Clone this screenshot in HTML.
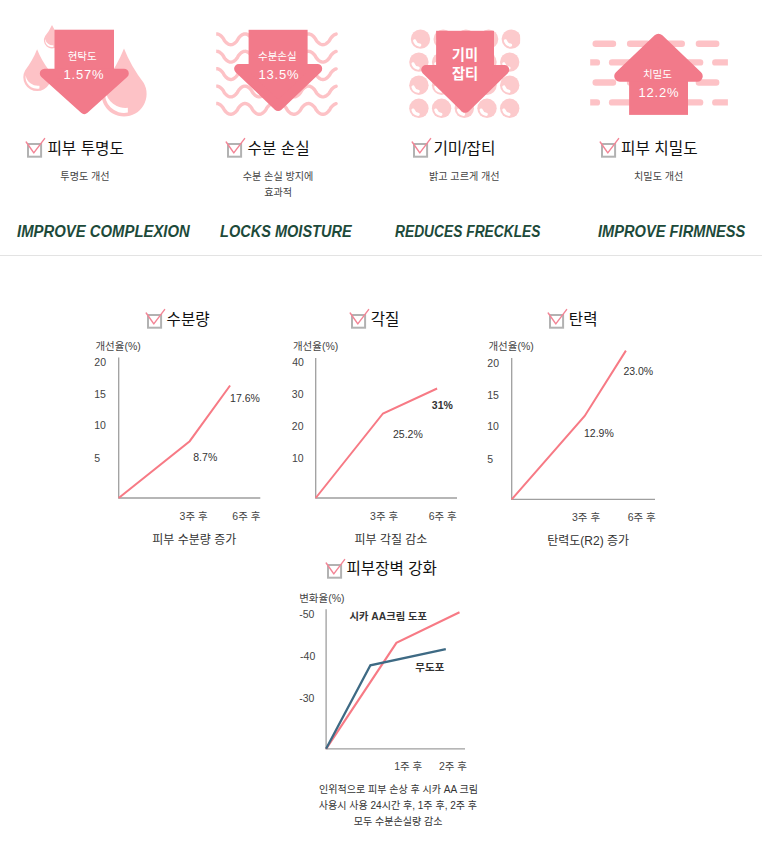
<!DOCTYPE html>
<html lang="ko"><head><meta charset="utf-8"><title>Skin improvement results</title>
<style>
html,body{margin:0;padding:0;background:#fff}
body{width:762px;height:862px;overflow:hidden;font-family:"Liberation Sans","Noto Sans CJK KR",sans-serif}
#page{position:relative;width:762px;height:862px;overflow:hidden;background:#fff}
.abs,.t,.en{position:absolute;display:block}
.tl{position:absolute;white-space:nowrap;line-height:1;text-align:center;font-weight:normal;font-family:"Liberation Sans","Noto Sans CJK KR",sans-serif}
.t{white-space:nowrap;line-height:1}
.en{white-space:nowrap;line-height:1}
.en text{font-family:"Liberation Sans",sans-serif;font-size:17.2px;font-weight:bold;font-style:italic;fill:#1d4a3a}
#art{position:absolute;left:0;top:0}
hr{position:absolute;left:0;top:255px;width:762px;height:1px;margin:0;border:0;background:#e3e3e3}
h3,p{margin:0;padding:0;font-size:0}
</style></head><body><main id="page">

<svg id="art" width="762" height="862" viewBox="0 0 762 862" aria-hidden="true">
<path fill="#fdc2c6" d="M52 25.1Q54.52 30.82 58.85 35.98A8.1 8.1 0 1 1 45.15 35.98Q49.48 30.82 52 25.1Z"/>
<path fill="#fff" d="M45.3 39.12A6.8 6.8 0 0 0 53.38 46.96L53.38 45.28A7.29 7.29 0 0 1 45.3 39.12Z"/>
<path fill="#fdc2c6" d="M37.1 49.2Q41.42 60.3 49.11 70.4A13.8 13.8 0 1 1 25.09 70.4Q32.78 60.3 37.1 49.2Z"/>
<path fill="#fff" d="M25.68 75.19A11.59 11.59 0 0 0 39.45 88.55L39.45 85.69A12.42 12.42 0 0 1 25.68 75.19Z"/>
<path fill="#fdc2c6" d="M124 48.4Q131.08 66.36 143.62 82.67A22.6 22.6 0 1 1 104.38 82.67Q116.92 66.36 124 48.4Z"/>
<path fill="#fff" d="M105.3 90.6A18.98 18.98 0 0 0 127.84 112.49L127.84 107.8A20.34 20.34 0 0 1 105.3 90.6Z"/>
<rect x="54.5" y="29.7" width="59.5" height="44.8" fill="#f27a8a"/><path d="M44.6 73.5L124 73.5L84.3 109.2Z" fill="#f27a8a" stroke="#f27a8a" stroke-width="9.6" stroke-linejoin="round"/>
<clipPath id="c2"><rect x="216.2" y="25" width="125" height="100"/></clipPath><g clip-path="url(#c2)">
<path d="M213 35.24L213.7 34.78L214.4 34.41L215.1 34.14L215.8 33.97L216.5 33.9L217.2 33.94L217.9 34.08L218.6 34.32L219.3 34.66L220 35.1L220.7 35.63L221.4 36.26L222.1 36.99L222.8 37.82L223.5 38.85L224.2 40.23L224.9 41.15L225.6 41.94L226.3 42.62L227 43.21L227.7 43.7L228.4 44.1L229.1 44.4L229.8 44.59L230.5 44.69L231.2 44.68L231.9 44.57L232.6 44.36L233.3 44.05L234 43.63L234.7 43.13L235.4 42.53L236.1 41.83L236.8 41.03L237.5 40.08L238.2 38.68L238.9 37.7L239.6 36.88L240.3 36.17L241 35.55L241.7 35.03L242.4 34.61L243.1 34.28L243.8 34.05L244.5 33.93L245.2 33.9L245.9 33.99L246.6 34.17L247.3 34.45L248 34.84L248.7 35.32L249.4 35.89L250.1 36.56L250.8 37.33L251.5 38.23L252.2 39.56L252.9 40.65L253.6 41.5L254.3 42.24L255 42.88L255.7 43.43L256.4 43.88L257.1 44.24L257.8 44.49L258.5 44.65L259.2 44.7L259.9 44.65L260.6 44.49L261.3 44.24L262 43.88L262.7 43.43L263.4 42.88L264.1 42.24L264.8 41.5L265.5 40.65L266.2 39.56L266.9 38.23L267.6 37.33L268.3 36.56L269 35.89L269.7 35.32L270.4 34.84L271.1 34.45L271.8 34.17L272.5 33.99L273.2 33.9L273.9 33.93L274.6 34.05L275.3 34.28L276 34.61L276.7 35.03L277.4 34.3L278.1 34.07L278.8 33.94L279.5 33.9L280.2 33.96L280.9 34.13L281.6 34.39L282.3 34.74L283 35.19L283.7 35.73L284.4 36.36L285.1 37.08L285.8 37.91L286.5 38.95L287.2 40.28L287.9 41.18L288.6 41.95L289.3 42.61L290 43.19L290.7 43.68L291.4 44.07L292.1 44.37L292.8 44.58L293.5 44.68L294.2 44.69L294.9 44.6L295.6 44.41L296.3 44.12L297 43.74L297.7 43.27L298.4 42.7L299.1 42.05L299.8 41.3L300.5 40.42L301.2 39.16L301.9 38.04L302.6 37.19L303.3 36.45L304 35.81L304.7 35.26L305.4 34.8L306.1 34.43L306.8 34.16L307.5 33.98L308.2 33.9L308.9 33.93L309.6 34.05L310.3 34.26L311 34.58L311.7 34.99L312.4 35.49L313.1 36.08L313.8 36.76L314.5 37.54L315.2 38.46L315.9 39.82L316.6 40.82L317.3 41.63L318 42.34L318.7 42.95L319.4 43.48L320.1 43.91L320.8 44.26L321.5 44.5L322.2 44.65L322.9 44.7L323.6 44.65L324.3 44.5L325 44.26L325.7 43.91L326.4 43.48L327.1 42.95L327.8 42.34L328.5 41.63L329.2 40.82L329.9 39.82L330.6 38.46L331.3 37.54L332 36.76L332.7 36.08L333.4 35.49L334.1 34.99L334.8 34.58L335.5 34.26L336.1 34.07" fill="none" stroke="#fdc2c6" stroke-width="3.4" stroke-linecap="round" stroke-linejoin="round"/>
<path d="M213 52.64L213.7 52.18L214.4 51.81L215.1 51.54L215.8 51.37L216.5 51.3L217.2 51.34L217.9 51.48L218.6 51.72L219.3 52.06L220 52.5L220.7 53.03L221.4 53.66L222.1 54.39L222.8 55.22L223.5 56.25L224.2 57.63L224.9 58.55L225.6 59.34L226.3 60.02L227 60.61L227.7 61.1L228.4 61.5L229.1 61.8L229.8 61.99L230.5 62.09L231.2 62.08L231.9 61.97L232.6 61.76L233.3 61.45L234 61.03L234.7 60.53L235.4 59.93L236.1 59.23L236.8 58.43L237.5 57.48L238.2 56.08L238.9 55.1L239.6 54.28L240.3 53.57L241 52.95L241.7 52.43L242.4 52.01L243.1 51.68L243.8 51.45L244.5 51.33L245.2 51.3L245.9 51.39L246.6 51.57L247.3 51.85L248 52.24L248.7 52.72L249.4 53.29L250.1 53.96L250.8 54.73L251.5 55.63L252.2 56.96L252.9 58.05L253.6 58.9L254.3 59.64L255 60.28L255.7 60.83L256.4 61.28L257.1 61.64L257.8 61.89L258.5 62.05L259.2 62.1L259.9 62.05L260.6 61.89L261.3 61.64L262 61.28L262.7 60.83L263.4 60.28L264.1 59.64L264.8 58.9L265.5 58.05L266.2 56.96L266.9 55.63L267.6 54.73L268.3 53.96L269 53.29L269.7 52.72L270.4 52.24L271.1 51.85L271.8 51.57L272.5 51.39L273.2 51.3L273.9 51.33L274.6 51.45L275.3 51.68L276 52.01L276.7 52.43L277.4 51.7L278.1 51.47L278.8 51.34L279.5 51.3L280.2 51.36L280.9 51.53L281.6 51.79L282.3 52.14L283 52.59L283.7 53.13L284.4 53.76L285.1 54.48L285.8 55.31L286.5 56.35L287.2 57.68L287.9 58.58L288.6 59.35L289.3 60.01L290 60.59L290.7 61.08L291.4 61.47L292.1 61.77L292.8 61.98L293.5 62.08L294.2 62.09L294.9 62L295.6 61.81L296.3 61.52L297 61.14L297.7 60.67L298.4 60.1L299.1 59.45L299.8 58.7L300.5 57.82L301.2 56.56L301.9 55.44L302.6 54.59L303.3 53.85L304 53.21L304.7 52.66L305.4 52.2L306.1 51.83L306.8 51.56L307.5 51.38L308.2 51.3L308.9 51.33L309.6 51.45L310.3 51.66L311 51.98L311.7 52.39L312.4 52.89L313.1 53.48L313.8 54.16L314.5 54.94L315.2 55.86L315.9 57.22L316.6 58.22L317.3 59.03L318 59.74L318.7 60.35L319.4 60.88L320.1 61.31L320.8 61.66L321.5 61.9L322.2 62.05L322.9 62.1L323.6 62.05L324.3 61.9L325 61.66L325.7 61.31L326.4 60.88L327.1 60.35L327.8 59.74L328.5 59.03L329.2 58.22L329.9 57.22L330.6 55.86L331.3 54.94L332 54.16L332.7 53.48L333.4 52.89L334.1 52.39L334.8 51.98L335.5 51.66L336.1 51.47" fill="none" stroke="#fdc2c6" stroke-width="3.4" stroke-linecap="round" stroke-linejoin="round"/>
<path d="M213 70.04L213.7 69.58L214.4 69.21L215.1 68.94L215.8 68.77L216.5 68.7L217.2 68.74L217.9 68.88L218.6 69.12L219.3 69.46L220 69.9L220.7 70.43L221.4 71.06L222.1 71.79L222.8 72.62L223.5 73.65L224.2 75.03L224.9 75.95L225.6 76.74L226.3 77.42L227 78.01L227.7 78.5L228.4 78.9L229.1 79.2L229.8 79.39L230.5 79.49L231.2 79.48L231.9 79.37L232.6 79.16L233.3 78.85L234 78.43L234.7 77.93L235.4 77.33L236.1 76.63L236.8 75.83L237.5 74.88L238.2 73.48L238.9 72.5L239.6 71.68L240.3 70.97L241 70.35L241.7 69.83L242.4 69.41L243.1 69.08L243.8 68.85L244.5 68.73L245.2 68.7L245.9 68.79L246.6 68.97L247.3 69.25L248 69.64L248.7 70.12L249.4 70.69L250.1 71.36L250.8 72.13L251.5 73.03L252.2 74.36L252.9 75.45L253.6 76.3L254.3 77.04L255 77.68L255.7 78.23L256.4 78.68L257.1 79.04L257.8 79.29L258.5 79.45L259.2 79.5L259.9 79.45L260.6 79.29L261.3 79.04L262 78.68L262.7 78.23L263.4 77.68L264.1 77.04L264.8 76.3L265.5 75.45L266.2 74.36L266.9 73.03L267.6 72.13L268.3 71.36L269 70.69L269.7 70.12L270.4 69.64L271.1 69.25L271.8 68.97L272.5 68.79L273.2 68.7L273.9 68.73L274.6 68.85L275.3 69.08L276 69.41L276.7 69.83L277.4 69.1L278.1 68.87L278.8 68.74L279.5 68.7L280.2 68.76L280.9 68.93L281.6 69.19L282.3 69.54L283 69.99L283.7 70.53L284.4 71.16L285.1 71.88L285.8 72.71L286.5 73.75L287.2 75.08L287.9 75.98L288.6 76.75L289.3 77.41L290 77.99L290.7 78.48L291.4 78.87L292.1 79.17L292.8 79.38L293.5 79.48L294.2 79.49L294.9 79.4L295.6 79.21L296.3 78.92L297 78.54L297.7 78.07L298.4 77.5L299.1 76.85L299.8 76.1L300.5 75.22L301.2 73.96L301.9 72.84L302.6 71.99L303.3 71.25L304 70.61L304.7 70.06L305.4 69.6L306.1 69.23L306.8 68.96L307.5 68.78L308.2 68.7L308.9 68.73L309.6 68.85L310.3 69.06L311 69.38L311.7 69.79L312.4 70.29L313.1 70.88L313.8 71.56L314.5 72.34L315.2 73.26L315.9 74.62L316.6 75.62L317.3 76.43L318 77.14L318.7 77.75L319.4 78.28L320.1 78.71L320.8 79.06L321.5 79.3L322.2 79.45L322.9 79.5L323.6 79.45L324.3 79.3L325 79.06L325.7 78.71L326.4 78.28L327.1 77.75L327.8 77.14L328.5 76.43L329.2 75.62L329.9 74.62L330.6 73.26L331.3 72.34L332 71.56L332.7 70.88L333.4 70.29L334.1 69.79L334.8 69.38L335.5 69.06L336.1 68.87" fill="none" stroke="#fdc2c6" stroke-width="3.4" stroke-linecap="round" stroke-linejoin="round"/>
<path d="M213 87.44L213.7 86.98L214.4 86.61L215.1 86.34L215.8 86.17L216.5 86.1L217.2 86.14L217.9 86.28L218.6 86.52L219.3 86.86L220 87.3L220.7 87.83L221.4 88.46L222.1 89.19L222.8 90.02L223.5 91.05L224.2 92.43L224.9 93.35L225.6 94.14L226.3 94.82L227 95.41L227.7 95.9L228.4 96.3L229.1 96.6L229.8 96.79L230.5 96.89L231.2 96.88L231.9 96.77L232.6 96.56L233.3 96.25L234 95.83L234.7 95.33L235.4 94.73L236.1 94.03L236.8 93.23L237.5 92.28L238.2 90.88L238.9 89.9L239.6 89.08L240.3 88.37L241 87.75L241.7 87.23L242.4 86.81L243.1 86.48L243.8 86.25L244.5 86.13L245.2 86.1L245.9 86.19L246.6 86.37L247.3 86.65L248 87.04L248.7 87.52L249.4 88.09L250.1 88.76L250.8 89.53L251.5 90.43L252.2 91.76L252.9 92.85L253.6 93.7L254.3 94.44L255 95.08L255.7 95.63L256.4 96.08L257.1 96.44L257.8 96.69L258.5 96.85L259.2 96.9L259.9 96.85L260.6 96.69L261.3 96.44L262 96.08L262.7 95.63L263.4 95.08L264.1 94.44L264.8 93.7L265.5 92.85L266.2 91.76L266.9 90.43L267.6 89.53L268.3 88.76L269 88.09L269.7 87.52L270.4 87.04L271.1 86.65L271.8 86.37L272.5 86.19L273.2 86.1L273.9 86.13L274.6 86.25L275.3 86.48L276 86.81L276.7 87.23L277.4 86.5L278.1 86.27L278.8 86.14L279.5 86.1L280.2 86.16L280.9 86.33L281.6 86.59L282.3 86.94L283 87.39L283.7 87.93L284.4 88.56L285.1 89.28L285.8 90.11L286.5 91.15L287.2 92.48L287.9 93.38L288.6 94.15L289.3 94.81L290 95.39L290.7 95.88L291.4 96.27L292.1 96.57L292.8 96.78L293.5 96.88L294.2 96.89L294.9 96.8L295.6 96.61L296.3 96.32L297 95.94L297.7 95.47L298.4 94.9L299.1 94.25L299.8 93.5L300.5 92.62L301.2 91.36L301.9 90.24L302.6 89.39L303.3 88.65L304 88.01L304.7 87.46L305.4 87L306.1 86.63L306.8 86.36L307.5 86.18L308.2 86.1L308.9 86.13L309.6 86.25L310.3 86.46L311 86.78L311.7 87.19L312.4 87.69L313.1 88.28L313.8 88.96L314.5 89.74L315.2 90.66L315.9 92.02L316.6 93.02L317.3 93.83L318 94.54L318.7 95.15L319.4 95.68L320.1 96.11L320.8 96.46L321.5 96.7L322.2 96.85L322.9 96.9L323.6 96.85L324.3 96.7L325 96.46L325.7 96.11L326.4 95.68L327.1 95.15L327.8 94.54L328.5 93.83L329.2 93.02L329.9 92.02L330.6 90.66L331.3 89.74L332 88.96L332.7 88.28L333.4 87.69L334.1 87.19L334.8 86.78L335.5 86.46L336.1 86.27" fill="none" stroke="#fdc2c6" stroke-width="3.4" stroke-linecap="round" stroke-linejoin="round"/>
<path d="M213 104.84L213.7 104.38L214.4 104.01L215.1 103.74L215.8 103.57L216.5 103.5L217.2 103.54L217.9 103.68L218.6 103.92L219.3 104.26L220 104.7L220.7 105.23L221.4 105.86L222.1 106.59L222.8 107.42L223.5 108.45L224.2 109.83L224.9 110.75L225.6 111.54L226.3 112.22L227 112.81L227.7 113.3L228.4 113.7L229.1 114L229.8 114.19L230.5 114.29L231.2 114.28L231.9 114.17L232.6 113.96L233.3 113.65L234 113.23L234.7 112.73L235.4 112.13L236.1 111.43L236.8 110.63L237.5 109.68L238.2 108.28L238.9 107.3L239.6 106.48L240.3 105.77L241 105.15L241.7 104.63L242.4 104.21L243.1 103.88L243.8 103.65L244.5 103.53L245.2 103.5L245.9 103.59L246.6 103.77L247.3 104.05L248 104.44L248.7 104.92L249.4 105.49L250.1 106.16L250.8 106.93L251.5 107.83L252.2 109.16L252.9 110.25L253.6 111.1L254.3 111.84L255 112.48L255.7 113.03L256.4 113.48L257.1 113.84L257.8 114.09L258.5 114.25L259.2 114.3L259.9 114.25L260.6 114.09L261.3 113.84L262 113.48L262.7 113.03L263.4 112.48L264.1 111.84L264.8 111.1L265.5 110.25L266.2 109.16L266.9 107.83L267.6 106.93L268.3 106.16L269 105.49L269.7 104.92L270.4 104.44L271.1 104.05L271.8 103.77L272.5 103.59L273.2 103.5L273.9 103.53L274.6 103.65L275.3 103.88L276 104.21L276.7 104.63L277.4 103.9L278.1 103.67L278.8 103.54L279.5 103.5L280.2 103.56L280.9 103.73L281.6 103.99L282.3 104.34L283 104.79L283.7 105.33L284.4 105.96L285.1 106.68L285.8 107.51L286.5 108.55L287.2 109.88L287.9 110.78L288.6 111.55L289.3 112.21L290 112.79L290.7 113.28L291.4 113.67L292.1 113.97L292.8 114.18L293.5 114.28L294.2 114.29L294.9 114.2L295.6 114.01L296.3 113.72L297 113.34L297.7 112.87L298.4 112.3L299.1 111.65L299.8 110.9L300.5 110.02L301.2 108.76L301.9 107.64L302.6 106.79L303.3 106.05L304 105.41L304.7 104.86L305.4 104.4L306.1 104.03L306.8 103.76L307.5 103.58L308.2 103.5L308.9 103.53L309.6 103.65L310.3 103.86L311 104.18L311.7 104.59L312.4 105.09L313.1 105.68L313.8 106.36L314.5 107.14L315.2 108.06L315.9 109.42L316.6 110.42L317.3 111.23L318 111.94L318.7 112.55L319.4 113.08L320.1 113.51L320.8 113.86L321.5 114.1L322.2 114.25L322.9 114.3L323.6 114.25L324.3 114.1L325 113.86L325.7 113.51L326.4 113.08L327.1 112.55L327.8 111.94L328.5 111.23L329.2 110.42L329.9 109.42L330.6 108.06L331.3 107.14L332 106.36L332.7 105.68L333.4 105.09L334.1 104.59L334.8 104.18L335.5 103.86L336.1 103.67" fill="none" stroke="#fdc2c6" stroke-width="3.4" stroke-linecap="round" stroke-linejoin="round"/>
</g>
<rect x="248.6" y="29.8" width="59" height="39.9" fill="#f27a8a"/><path d="M238.9 68.7L317.4 68.7L278.15 106.2Z" fill="#f27a8a" stroke="#f27a8a" stroke-width="9.6" stroke-linejoin="round"/>
<clipPath id="c3"><rect x="405" y="25" width="115.2" height="100"/></clipPath><g clip-path="url(#c3)">
<circle cx="420.5" cy="39.1" r="9.7" fill="#fccacc"/>
<path d="M414.66 40.89A6.11 6.11 0 0 0 419.76 45.17" fill="none" stroke="#fff" stroke-width="3.2" stroke-linecap="round"/>
<circle cx="443.2" cy="39.1" r="9.7" fill="#fccacc"/>
<path d="M437.36 40.89A6.11 6.11 0 0 0 442.46 45.17" fill="none" stroke="#fff" stroke-width="3.2" stroke-linecap="round"/>
<circle cx="465.9" cy="39.1" r="9.7" fill="#fccacc"/>
<path d="M460.06 40.89A6.11 6.11 0 0 0 465.16 45.17" fill="none" stroke="#fff" stroke-width="3.2" stroke-linecap="round"/>
<circle cx="488.6" cy="39.1" r="9.7" fill="#fccacc"/>
<path d="M482.76 40.89A6.11 6.11 0 0 0 487.86 45.17" fill="none" stroke="#fff" stroke-width="3.2" stroke-linecap="round"/>
<circle cx="511.3" cy="39.1" r="9.7" fill="#fccacc"/>
<path d="M505.46 40.89A6.11 6.11 0 0 0 510.56 45.17" fill="none" stroke="#fff" stroke-width="3.2" stroke-linecap="round"/>
<circle cx="418.9" cy="62.1" r="9.7" fill="#fccacc"/>
<path d="M413.06 63.89A6.11 6.11 0 0 0 418.16 68.17" fill="none" stroke="#fff" stroke-width="3.2" stroke-linecap="round"/>
<circle cx="441.6" cy="62.1" r="9.7" fill="#fccacc"/>
<path d="M435.76 63.89A6.11 6.11 0 0 0 440.86 68.17" fill="none" stroke="#fff" stroke-width="3.2" stroke-linecap="round"/>
<circle cx="464.3" cy="62.1" r="9.7" fill="#fccacc"/>
<path d="M458.46 63.89A6.11 6.11 0 0 0 463.56 68.17" fill="none" stroke="#fff" stroke-width="3.2" stroke-linecap="round"/>
<circle cx="487" cy="62.1" r="9.7" fill="#fccacc"/>
<path d="M481.16 63.89A6.11 6.11 0 0 0 486.26 68.17" fill="none" stroke="#fff" stroke-width="3.2" stroke-linecap="round"/>
<circle cx="509.7" cy="62.1" r="9.7" fill="#fccacc"/>
<path d="M503.86 63.89A6.11 6.11 0 0 0 508.96 68.17" fill="none" stroke="#fff" stroke-width="3.2" stroke-linecap="round"/>
<circle cx="418.9" cy="85.2" r="9.7" fill="#fccacc"/>
<path d="M413.06 86.99A6.11 6.11 0 0 0 418.16 91.27" fill="none" stroke="#fff" stroke-width="3.2" stroke-linecap="round"/>
<circle cx="441.6" cy="85.2" r="9.7" fill="#fccacc"/>
<path d="M435.76 86.99A6.11 6.11 0 0 0 440.86 91.27" fill="none" stroke="#fff" stroke-width="3.2" stroke-linecap="round"/>
<circle cx="464.3" cy="85.2" r="9.7" fill="#fccacc"/>
<path d="M458.46 86.99A6.11 6.11 0 0 0 463.56 91.27" fill="none" stroke="#fff" stroke-width="3.2" stroke-linecap="round"/>
<circle cx="487" cy="85.2" r="9.7" fill="#fccacc"/>
<path d="M481.16 86.99A6.11 6.11 0 0 0 486.26 91.27" fill="none" stroke="#fff" stroke-width="3.2" stroke-linecap="round"/>
<circle cx="509.7" cy="85.2" r="9.7" fill="#fccacc"/>
<path d="M503.86 86.99A6.11 6.11 0 0 0 508.96 91.27" fill="none" stroke="#fff" stroke-width="3.2" stroke-linecap="round"/>
<circle cx="418.9" cy="108.3" r="9.7" fill="#fccacc"/>
<path d="M413.06 110.09A6.11 6.11 0 0 0 418.16 114.37" fill="none" stroke="#fff" stroke-width="3.2" stroke-linecap="round"/>
<circle cx="441.6" cy="108.3" r="9.7" fill="#fccacc"/>
<path d="M435.76 110.09A6.11 6.11 0 0 0 440.86 114.37" fill="none" stroke="#fff" stroke-width="3.2" stroke-linecap="round"/>
<circle cx="464.3" cy="108.3" r="9.7" fill="#fccacc"/>
<path d="M458.46 110.09A6.11 6.11 0 0 0 463.56 114.37" fill="none" stroke="#fff" stroke-width="3.2" stroke-linecap="round"/>
<circle cx="487" cy="108.3" r="9.7" fill="#fccacc"/>
<path d="M481.16 110.09A6.11 6.11 0 0 0 486.26 114.37" fill="none" stroke="#fff" stroke-width="3.2" stroke-linecap="round"/>
<circle cx="509.7" cy="108.3" r="9.7" fill="#fccacc"/>
<path d="M503.86 110.09A6.11 6.11 0 0 0 508.96 114.37" fill="none" stroke="#fff" stroke-width="3.2" stroke-linecap="round"/>
</g>
<rect x="436.1" y="30.8" width="57.9" height="40" fill="#f27a8a"/><path d="M426 69.8L504.5 69.8L465.25 108Z" fill="#f27a8a" stroke="#f27a8a" stroke-width="9.6" stroke-linejoin="round"/>
<clipPath id="c4"><rect x="590.2" y="30" width="137.7" height="90"/></clipPath><g clip-path="url(#c4)">
<line x1="595.7" y1="43.7" x2="613" y2="43.7" stroke="#fdc2c6" stroke-width="6.4" stroke-linecap="round"/>
<line x1="630.1" y1="43.7" x2="647.4" y2="43.7" stroke="#fdc2c6" stroke-width="6.4" stroke-linecap="round"/>
<line x1="664.5" y1="43.7" x2="681.8" y2="43.7" stroke="#fdc2c6" stroke-width="6.4" stroke-linecap="round"/>
<line x1="698.9" y1="43.7" x2="716.2" y2="43.7" stroke="#fdc2c6" stroke-width="6.4" stroke-linecap="round"/>
<line x1="595.7" y1="82.5" x2="613" y2="82.5" stroke="#fdc2c6" stroke-width="6.4" stroke-linecap="round"/>
<line x1="630.1" y1="82.5" x2="647.4" y2="82.5" stroke="#fdc2c6" stroke-width="6.4" stroke-linecap="round"/>
<line x1="664.5" y1="82.5" x2="681.8" y2="82.5" stroke="#fdc2c6" stroke-width="6.4" stroke-linecap="round"/>
<line x1="698.9" y1="82.5" x2="716.2" y2="82.5" stroke="#fdc2c6" stroke-width="6.4" stroke-linecap="round"/>
<line x1="577.7" y1="62.4" x2="596.9" y2="62.4" stroke="#fdc2c6" stroke-width="6.4" stroke-linecap="round"/>
<line x1="612.1" y1="62.4" x2="631.3" y2="62.4" stroke="#fdc2c6" stroke-width="6.4" stroke-linecap="round"/>
<line x1="646.5" y1="62.4" x2="665.7" y2="62.4" stroke="#fdc2c6" stroke-width="6.4" stroke-linecap="round"/>
<line x1="680.9" y1="62.4" x2="700.1" y2="62.4" stroke="#fdc2c6" stroke-width="6.4" stroke-linecap="round"/>
<line x1="715.3" y1="62.4" x2="734.5" y2="62.4" stroke="#fdc2c6" stroke-width="6.4" stroke-linecap="round"/>
<line x1="577.7" y1="102.4" x2="596.9" y2="102.4" stroke="#fdc2c6" stroke-width="6.4" stroke-linecap="round"/>
<line x1="612.1" y1="102.4" x2="631.3" y2="102.4" stroke="#fdc2c6" stroke-width="6.4" stroke-linecap="round"/>
<line x1="646.5" y1="102.4" x2="665.7" y2="102.4" stroke="#fdc2c6" stroke-width="6.4" stroke-linecap="round"/>
<line x1="680.9" y1="102.4" x2="700.1" y2="102.4" stroke="#fdc2c6" stroke-width="6.4" stroke-linecap="round"/>
<line x1="715.3" y1="102.4" x2="734.5" y2="102.4" stroke="#fdc2c6" stroke-width="6.4" stroke-linecap="round"/>
</g>
<rect x="629.1" y="75.2" width="58.9" height="39.7" fill="#f27a8a"/><path d="M619.8 76.2L697.15 76.2L658.48 39.3Z" fill="#f27a8a" stroke="#f27a8a" stroke-width="11.2" stroke-linejoin="round"/>
<path d="M118.7 357.4V498H260.3" fill="none" stroke="#9f9f9f" stroke-width="1.3"/><polyline points="118.7,498 189.7,441.2 230.1,385.5" fill="none" stroke="#f77a85" stroke-width="2" stroke-linejoin="miter"/>
<path d="M315.7 357.9V498H457" fill="none" stroke="#9f9f9f" stroke-width="1.3"/><polyline points="315.7,498 383,413.5 437.1,388.5" fill="none" stroke="#f77a85" stroke-width="2" stroke-linejoin="miter"/>
<path d="M511.7 357.9V499.3H655" fill="none" stroke="#9f9f9f" stroke-width="1.3"/><polyline points="511.7,499.3 584.7,416 625.9,350.6" fill="none" stroke="#f77a85" stroke-width="2" stroke-linejoin="miter"/>
<path d="M326.1 609.3V748.8H465" fill="none" stroke="#9f9f9f" stroke-width="1.3"/><polyline points="326.1,748.8 396.4,642.9 459.5,612.3" fill="none" stroke="#f77a85" stroke-width="2.15" stroke-linejoin="miter"/><polyline points="326.1,748.8 370.4,665.3 445.8,649.2" fill="none" stroke="#3e6a84" stroke-width="2.3" stroke-linejoin="miter"/>
</svg>
<hr>
<section class="card" aria-label="피부 투명도">
<div class="badge"><span class="tl" style="left:67.32px;top:50.96px;font-size:10.5px;width:29.61px;color:#fff">현탁도</span><span class="tl" style="left:61.38px;top:67.56px;font-size:13px;width:45.14px;color:#fff;letter-spacing:0.8px">1.57%</span></div>
<svg class="abs" style="left:24px;top:135.9px" width="23" height="24" viewBox="-3 -7 23 24"><rect x="1" y="1" width="13.1" height="12.7" fill="#fff" stroke="#b2b2b2" stroke-width="2"/><path d="M-0.8 -1 L6.8 9.9 L17.6 -4.4" fill="none" stroke="#f38596" stroke-width="1.45" stroke-linecap="round" stroke-linejoin="round"/></svg>
<h3><span class="tl" style="left:46.62px;top:140.68px;font-size:15.7px;width:78.19px;color:#111">피부 투명도</span></h3>
<p><span class="tl" style="left:59.83px;top:172.11px;font-size:10.1px;width:50.3px;color:#444">투명도 개선</span></p>
<p class="en" style="left:17.1px;top:220px"><svg width="174.5" height="22" viewBox="0 0 174.5 22" style="overflow:visible;display:block"><text x="0" y="17" textLength="172.8" lengthAdjust="spacingAndGlyphs">IMPROVE COMPLEXION</text></svg></p>
</section>
<section class="card" aria-label="수분 손실">
<div class="badge"><span class="tl" style="left:257.65px;top:51.36px;font-size:10.5px;width:39.48px;color:#fff">수분손실</span><span class="tl" style="left:256.33px;top:67.56px;font-size:13px;width:45.14px;color:#fff;letter-spacing:0.8px">13.5%</span></div>
<svg class="abs" style="left:224.3px;top:135.9px" width="23" height="24" viewBox="-3 -7 23 24"><rect x="1" y="1" width="13.1" height="12.7" fill="#fff" stroke="#b2b2b2" stroke-width="2"/><path d="M-0.8 -1 L6.8 9.9 L17.6 -4.4" fill="none" stroke="#f38596" stroke-width="1.45" stroke-linecap="round" stroke-linejoin="round"/></svg>
<h3><span class="tl" style="left:246.83px;top:140.68px;font-size:15.7px;width:63.43px;color:#111">수분 손실</span></h3>
<p><span class="tl" style="left:242.01px;top:172.11px;font-size:10.1px;width:72.11px;color:#444">수분 손실 방지에</span><span class="tl" style="left:263.99px;top:188.21px;font-size:10.1px;width:28.48px;color:#444">효과적</span></p>
<p class="en" style="left:220.1px;top:220px"><svg width="133.4" height="22" viewBox="0 0 133.4 22" style="overflow:visible;display:block"><text x="0" y="17" textLength="131.7" lengthAdjust="spacingAndGlyphs">LOCKS MOISTURE</text></svg></p>
</section>
<section class="card" aria-label="기미/잡티">
<div class="badge"><span class="tl" style="left:451.53px;top:48.12px;font-size:14.3px;width:26.88px;color:#fff;font-weight:bold">기미</span><span class="tl" style="left:451.64px;top:66.82px;font-size:14.3px;width:26.88px;color:#fff;font-weight:bold">잡티</span></div>
<svg class="abs" style="left:410.4px;top:135.9px" width="23" height="24" viewBox="-3 -7 23 24"><rect x="1" y="1" width="13.1" height="12.7" fill="#fff" stroke="#b2b2b2" stroke-width="2"/><path d="M-0.8 -1 L6.8 9.9 L17.6 -4.4" fill="none" stroke="#f38596" stroke-width="1.45" stroke-linecap="round" stroke-linejoin="round"/></svg>
<h3><span class="tl" style="left:431.98px;top:140.68px;font-size:15.7px;width:64.92px;color:#111">기미/잡티</span></h3>
<p><span class="tl" style="left:428.24px;top:172.11px;font-size:10.1px;width:72.11px;color:#444">밝고 고르게 개선</span></p>
<p class="en" style="left:394.5px;top:220px"><svg width="147.2" height="22" viewBox="0 0 147.2 22" style="overflow:visible;display:block"><text x="0" y="17" textLength="145.5" lengthAdjust="spacingAndGlyphs">REDUCES FRECKLES</text></svg></p>
</section>
<section class="card" aria-label="피부 치밀도">
<div class="badge"><span class="tl" style="left:642.6px;top:69.46px;font-size:10.5px;width:29.61px;color:#fff">치밀도</span><span class="tl" style="left:636.33px;top:86.16px;font-size:13px;width:45.14px;color:#fff;letter-spacing:0.8px">12.2%</span></div>
<svg class="abs" style="left:598.2px;top:135.9px" width="23" height="24" viewBox="-3 -7 23 24"><rect x="1" y="1" width="13.1" height="12.7" fill="#fff" stroke="#b2b2b2" stroke-width="2"/><path d="M-0.8 -1 L6.8 9.9 L17.6 -4.4" fill="none" stroke="#f38596" stroke-width="1.45" stroke-linecap="round" stroke-linejoin="round"/></svg>
<h3><span class="tl" style="left:620.22px;top:140.68px;font-size:15.7px;width:78.19px;color:#111">피부 치밀도</span></h3>
<p><span class="tl" style="left:633.55px;top:172.11px;font-size:10.1px;width:50.3px;color:#444">치밀도 개선</span></p>
<p class="en" style="left:597.5px;top:220px"><svg width="149" height="22" viewBox="0 0 149 22" style="overflow:visible;display:block"><text x="0" y="17" textLength="147.3" lengthAdjust="spacingAndGlyphs">IMPROVE FIRMNESS</text></svg></p>
</section>
<section class="chart" aria-label="수분량"><svg class="abs" style="left:144.2px;top:307.1px" width="23" height="24" viewBox="-3 -7 23 24"><rect x="1" y="1" width="13.1" height="12.7" fill="#fff" stroke="#b2b2b2" stroke-width="2"/><path d="M-0.8 -1 L6.8 9.9 L17.6 -4.4" fill="none" stroke="#f38596" stroke-width="1.45" stroke-linecap="round" stroke-linejoin="round"/></svg>
<h3><span class="tl" style="left:166.13px;top:311.67px;font-size:15.6px;width:43.99px;color:#111">수분량</span></h3>
<span class="tl" style="left:93.78px;top:340.56px;font-size:10.5px;width:48.68px;color:#444">개선율(%)</span>
<span class="tl" style="left:93.85px;top:356.96px;font-size:10.5px;width:12.73px;color:#444">20</span>
<span class="tl" style="left:93.71px;top:388.66px;font-size:10.5px;width:12.73px;color:#444">15</span>
<span class="tl" style="left:93.71px;top:420.36px;font-size:10.5px;width:12.73px;color:#444">10</span>
<span class="tl" style="left:93.94px;top:452.76px;font-size:10.5px;width:6.36px;color:#444">5</span>
<span class="tl" style="left:228.11px;top:393.16px;font-size:10.5px;width:33.72px;color:#333">17.6%</span>
<span class="tl" style="left:191.59px;top:452.36px;font-size:10.5px;width:27.35px;color:#333">8.7%</span>
<span class="tl" style="left:179.13px;top:510.86px;font-size:10.5px;width:29.04px;color:#444">3주 후</span>
<span class="tl" style="left:231.89px;top:510.86px;font-size:10.5px;width:29.04px;color:#444">6주 후</span>
<span class="tl" style="left:151.46px;top:534.14px;font-size:12px;width:85.68px;color:#333">피부 수분량 증가</span></section>
<section class="chart" aria-label="각질"><svg class="abs" style="left:348.4px;top:307.1px" width="23" height="24" viewBox="-3 -7 23 24"><rect x="1" y="1" width="13.1" height="12.7" fill="#fff" stroke="#b2b2b2" stroke-width="2"/><path d="M-0.8 -1 L6.8 9.9 L17.6 -4.4" fill="none" stroke="#f38596" stroke-width="1.45" stroke-linecap="round" stroke-linejoin="round"/></svg>
<h3><span class="tl" style="left:369.33px;top:311.67px;font-size:15.6px;width:31.53px;color:#111">각질</span></h3>
<span class="tl" style="left:291.28px;top:340.96px;font-size:10.5px;width:48.68px;color:#444">개선율(%)</span>
<span class="tl" style="left:291.64px;top:357.36px;font-size:10.5px;width:12.73px;color:#444">40</span>
<span class="tl" style="left:291.33px;top:389.26px;font-size:10.5px;width:12.73px;color:#444">30</span>
<span class="tl" style="left:291.35px;top:420.86px;font-size:10.5px;width:12.73px;color:#444">20</span>
<span class="tl" style="left:291.51px;top:453.16px;font-size:10.5px;width:12.73px;color:#444">10</span>
<span class="tl" style="left:430.28px;top:400.36px;font-size:10.5px;width:24.17px;color:#333;font-weight:bold">31%</span>
<span class="tl" style="left:391.05px;top:429.16px;font-size:10.5px;width:33.72px;color:#333">25.2%</span>
<span class="tl" style="left:369.63px;top:510.86px;font-size:10.5px;width:29.04px;color:#444">3주 후</span>
<span class="tl" style="left:428.19px;top:510.86px;font-size:10.5px;width:29.04px;color:#444">6주 후</span>
<span class="tl" style="left:353.78px;top:534.24px;font-size:12px;width:74.4px;color:#333">피부 각질 감소</span></section>
<section class="chart" aria-label="탄력"><svg class="abs" style="left:545.5px;top:307.1px" width="23" height="24" viewBox="-3 -7 23 24"><rect x="1" y="1" width="13.1" height="12.7" fill="#fff" stroke="#b2b2b2" stroke-width="2"/><path d="M-0.8 -1 L6.8 9.9 L17.6 -4.4" fill="none" stroke="#f38596" stroke-width="1.45" stroke-linecap="round" stroke-linejoin="round"/></svg>
<h3><span class="tl" style="left:566.86px;top:311.67px;font-size:15.6px;width:32.55px;color:#111">탄력</span></h3>
<span class="tl" style="left:486.78px;top:340.96px;font-size:10.5px;width:48.68px;color:#444">개선율(%)</span>
<span class="tl" style="left:486.85px;top:358.06px;font-size:10.5px;width:12.73px;color:#444">20</span>
<span class="tl" style="left:486.71px;top:389.76px;font-size:10.5px;width:12.73px;color:#444">15</span>
<span class="tl" style="left:486.71px;top:421.36px;font-size:10.5px;width:12.73px;color:#444">10</span>
<span class="tl" style="left:486.94px;top:453.66px;font-size:10.5px;width:6.36px;color:#444">5</span>
<span class="tl" style="left:621.45px;top:366.46px;font-size:10.5px;width:33.72px;color:#333">23.0%</span>
<span class="tl" style="left:582.01px;top:427.96px;font-size:10.5px;width:33.72px;color:#333">12.9%</span>
<span class="tl" style="left:571.53px;top:511.56px;font-size:10.5px;width:29.04px;color:#444">3주 후</span>
<span class="tl" style="left:627.19px;top:511.56px;font-size:10.5px;width:29.04px;color:#444">6주 후</span>
<span class="tl" style="left:546.56px;top:535.04px;font-size:12px;width:83.21px;color:#333">탄력도(R2) 증가</span></section>
<section class="chart" aria-label="피부장벽 강화"><svg class="abs" style="left:324.3px;top:557.3px" width="23" height="24" viewBox="-3 -7 23 24"><rect x="1" y="1" width="13.1" height="12.7" fill="#fff" stroke="#b2b2b2" stroke-width="2"/><path d="M-0.8 -1 L6.8 9.9 L17.6 -4.4" fill="none" stroke="#f38596" stroke-width="1.45" stroke-linecap="round" stroke-linejoin="round"/></svg>
<h3><span class="tl" style="left:345.52px;top:561.47px;font-size:15.6px;width:92.35px;color:#111">피부장벽 강화</span></h3>
<span class="tl" style="left:297.53px;top:593.06px;font-size:10.5px;width:48.68px;color:#444">변화율(%)</span>
<span class="tl" style="left:298.61px;top:609.36px;font-size:10.5px;width:16.54px;color:#444">-50</span>
<span class="tl" style="left:299.41px;top:650.86px;font-size:10.5px;width:16.54px;color:#444">-40</span>
<span class="tl" style="left:298.61px;top:693.16px;font-size:10.5px;width:16.54px;color:#444">-30</span>
<span class="tl" style="left:348.84px;top:612.14px;font-size:10.3px;width:78.84px;color:#333;font-weight:bold">시카 AA크림 도포</span>
<span class="tl" style="left:415px;top:661.86px;font-size:10.5px;width:29.61px;color:#333;font-weight:bold">무도포</span>
<span class="tl" style="left:393.71px;top:760.86px;font-size:10.5px;width:29.04px;color:#444">1주 후</span>
<span class="tl" style="left:438.45px;top:760.86px;font-size:10.5px;width:29.04px;color:#444">2주 후</span>
<span class="tl" style="left:316.56px;top:784.66px;font-size:10.05px;width:163.75px;color:#333">인위적으로 피부 손상 후 시카 AA 크림</span>
<span class="tl" style="left:316.16px;top:800.76px;font-size:10.05px;width:163.51px;color:#333">사용시 사용 24시간 후, 1주 후, 2주 후</span>
<span class="tl" style="left:352.77px;top:817.06px;font-size:10.05px;width:90.65px;color:#333">모두 수분손실량 감소</span></section>
</main></body></html>
